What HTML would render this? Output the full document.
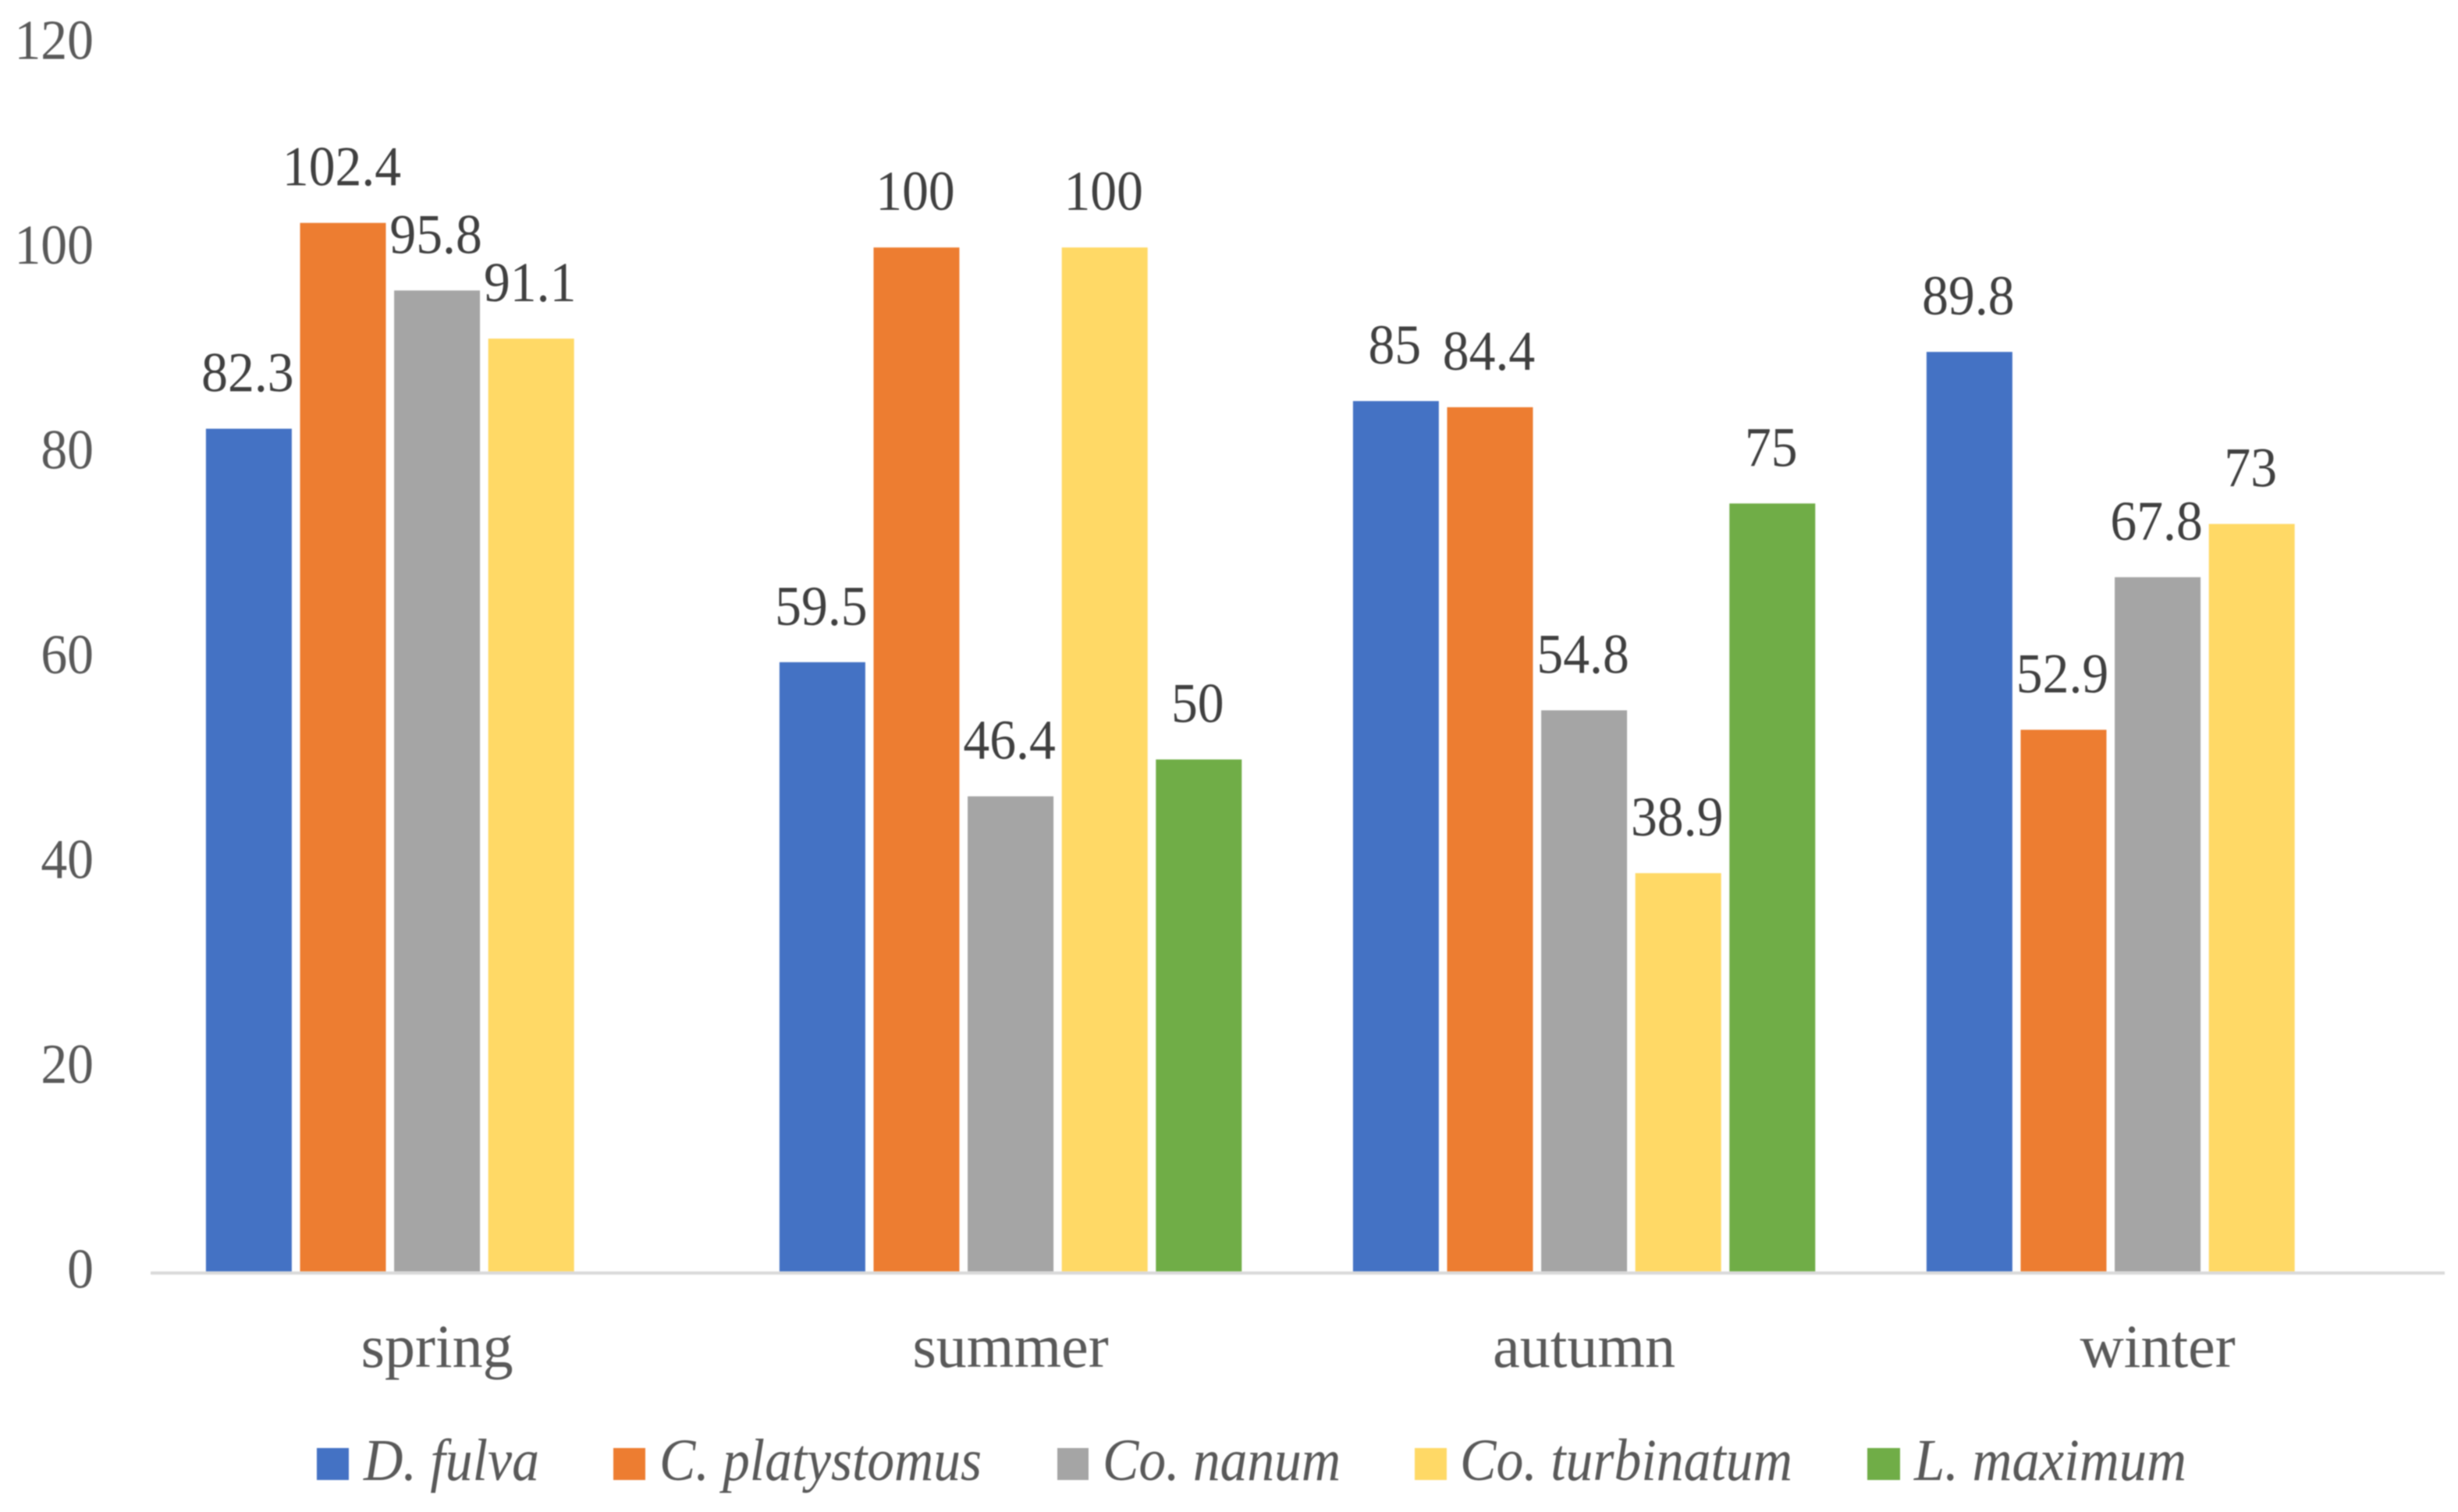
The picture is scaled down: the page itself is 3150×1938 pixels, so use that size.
<!DOCTYPE html>
<html lang="en">
<head>
<meta charset="utf-8">
<title>Seasonal values by species</title>
<style>
  html, body { margin: 0; padding: 0; background: #fff; }
  body { width: 3150px; height: 1938px; overflow: hidden; }
  svg { display: block; filter: blur(0.7px); }
  text { font-family: "Liberation Serif", serif; }
</style>
</head>
<body>
<svg id="chart" xmlns="http://www.w3.org/2000/svg" width="3150" height="1938" viewBox="0 0 3150 1938">
  <rect x="0" y="0" width="3150" height="1938" fill="#ffffff"/>
  <g id="y-ticks"></g>
  <g id="bars"></g>
  <rect x="193" y="1629.7" width="2940" height="4" fill="#d9d9d9"/>
  <g id="labels"></g>
  <g id="x-labels"></g>
  <g id="legend" font-style="italic" font-size="76" fill="#595959">
    <g>
      <rect x="406" y="1856" width="41" height="41" fill="#4472C4"/>
      <text x="466" y="1897" textLength="225" lengthAdjust="spacingAndGlyphs">D. fulva</text>
    </g>
    <g>
      <rect x="786" y="1856" width="41" height="41" fill="#ED7D31"/>
      <text x="845" y="1897" textLength="413" lengthAdjust="spacingAndGlyphs">C. platystomus</text>
    </g>
    <g>
      <rect x="1355" y="1856" width="40" height="41" fill="#A5A5A5"/>
      <text x="1413" y="1897" textLength="305" lengthAdjust="spacingAndGlyphs">Co. nanum</text>
    </g>
    <g>
      <rect x="1813" y="1856" width="41" height="41" fill="#FFD966"/>
      <text x="1871" y="1897" textLength="426" lengthAdjust="spacingAndGlyphs">Co. turbinatum</text>
    </g>
    <g>
      <rect x="2393" y="1856" width="42" height="41" fill="#70AD47"/>
      <text x="2453" y="1897" textLength="349" lengthAdjust="spacingAndGlyphs">L. maximum</text>
    </g>
  </g>
</svg>
<script>
const categories = ['spring', 'summer', 'autumn', 'winter'];
const yTicks = [0, 20, 40, 60, 80, 100, 120];
const seriesNames = ['d-fulva', 'c-platystomus', 'co-nanum', 'co-turbinatum', 'l-maximum'];
const seriesColors = ['#4472C4', '#ED7D31', '#A5A5A5', '#FFD966', '#70AD47'];
const dFulva = [82.3, 59.5, 85, 89.8];
const cPlatystomus = [102.4, 100, 84.4, 52.9];
const coNanum = [95.8, 46.4, 54.8, 67.8];
const coTurbinatum = [91.1, 100, 38.9, 73];
const lMaximum = [null, 50, 75, null];
const allSeries = [dFulva, cPlatystomus, coNanum, coTurbinatum, lMaximum];

const NS = 'http://www.w3.org/2000/svg';
const axisLeft = 192.6;
const categoryWidth = 735;
const barWidth = 110;
const barPitch = 120.6;
const baselineY = 1629.7;
const pxPerUnit = 13.125;
const numberFontSize = 72;
const numberCondense = 0.94;

function yScale(v) {
  return baselineY - v * pxPerUnit;
}
function categoryCenter(c) {
  return axisLeft + categoryWidth * (c + 0.5);
}
function barLeft(c, s) {
  const groupWidth = barPitch * (allSeries.length - 1) + barWidth;
  return categoryCenter(c) - groupWidth / 2 + s * barPitch;
}
function condense(el) {
  el.setAttribute('textLength', el.getComputedTextLength() * numberCondense);
  el.setAttribute('lengthAdjust', 'spacingAndGlyphs');
}

const tickGroup = document.getElementById('y-ticks');
const barGroup = document.getElementById('bars');
const labelGroup = document.getElementById('labels');
const xGroup = document.getElementById('x-labels');

yTicks.forEach(function (t) {
  const el = document.createElementNS(NS, 'text');
  
  
  el.setAttribute('x', 120);
  el.setAttribute('y', yScale(t) + 21);
  el.setAttribute('text-anchor', 'end');
  el.setAttribute('font-size', numberFontSize);
  el.setAttribute('fill', '#595959');
  el.textContent = t;
  tickGroup.appendChild(el);
  condense(el);
});

categories.forEach(function (cat, c) {
  const el = document.createElementNS(NS, 'text');
  
  
  el.setAttribute('x', categoryCenter(c));
  el.setAttribute('y', 1752);
  el.setAttribute('text-anchor', 'middle');
  el.setAttribute('font-size', 78);
  el.setAttribute('fill', '#595959');
  el.textContent = cat;
  xGroup.appendChild(el);
});

allSeries.forEach(function (values, s) {
  values.forEach(function (v, c) {
    if (v === null) return;
    const rect = document.createElementNS(NS, 'rect');
    
    
    rect.setAttribute('x', barLeft(c, s));
    rect.setAttribute('y', yScale(v));
    rect.setAttribute('width', barWidth);
    rect.setAttribute('height', baselineY - yScale(v));
    rect.setAttribute('fill', seriesColors[s]);
    barGroup.appendChild(rect);

    const label = document.createElementNS(NS, 'text');
    
    
    label.setAttribute('x', barLeft(c, s) + barWidth / 2 - 1.5);
    label.setAttribute('y', yScale(v) - 48);
    label.setAttribute('text-anchor', 'middle');
    label.setAttribute('font-size', numberFontSize);
    label.setAttribute('fill', '#404040');
    label.textContent = v;
    labelGroup.appendChild(label);
    condense(label);
  });
});
</script>
</body>
</html>
